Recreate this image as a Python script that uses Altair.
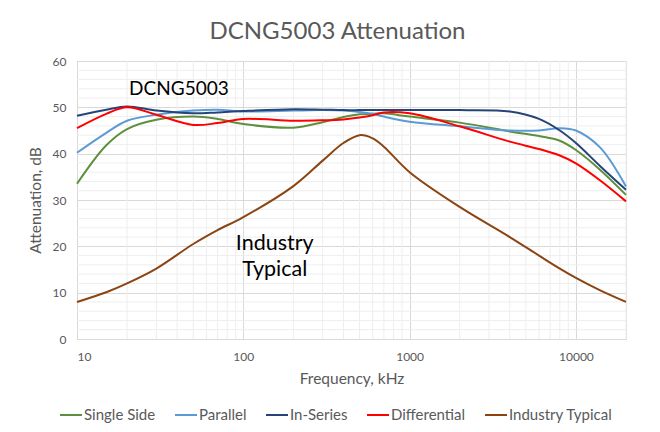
import altair as alt
import pandas as pd

# ---------------- data ----------------
freq = [10, 15, 20, 30, 50, 70, 100, 200, 300, 400, 500, 600, 700, 1000, 2000, 4000, 6000, 8000, 10000, 14000, 20000]
single_side = [33.5, 41.8, 45.3, 47.3, 48.0, 47.5, 46.4, 45.6, 46.8, 47.9, 48.5, 48.6, 48.7, 48.0, 46.7, 44.8, 43.8, 42.8, 40.8, 36.5, 31.1]
parallel = [40.2, 44.5, 47.1, 48.4, 49.3, 49.5, 49.1, 49.3, 49.4, 49.3, 49.0, 48.6, 48.0, 46.9, 45.9, 45.0, 45.0, 45.5, 45.0, 41.3, 32.9]
in_series = [48.2, 49.5, 50.2, 49.3, 48.7, 48.9, 49.2, 49.6, 49.5, 49.4, 49.4, 49.4, 49.4, 49.4, 49.4, 49.1, 47.5, 45.0, 42.3, 37.3, 32.2]
differential = [45.5, 48.6, 50.0, 48.4, 46.2, 46.6, 47.5, 47.1, 47.2, 47.4, 47.8, 48.3, 48.9, 48.7, 45.9, 42.6, 41.0, 39.6, 37.9, 34.2, 29.7]
industry_typical = [8.0, 10.1, 12.0, 15.2, 20.5, 23.5, 26.3, 33.0, 38.5, 42.3, 44.0, 43.3, 41.5, 36.0, 28.5, 22.0, 18.0, 15.2, 13.2, 10.5, 8.0]

series_names = ["Single Side", "Parallel", "In-Series", "Differential", "Industry Typical"]
series_colors = ["#5E8F3E", "#5B9BD5", "#264478", "#FF0000", "#8B4513"]

x_major = [10, 100, 1000, 10000]
x_minor = [20, 30, 40, 50, 60, 70, 80, 90,
           200, 300, 400, 500, 600, 700, 800, 900,
           2000, 3000, 4000, 5000, 6000, 7000, 8000, 9000,
           20000]
y_major = [0, 10, 20, 30, 40, 50, 60]
y_minor = [2, 4, 6, 8, 12, 14, 16, 18, 22, 24, 26, 28, 32, 34, 36, 38, 42, 44, 46, 48, 52, 54, 56, 58]

product_text = ["DCNG5003"]
product_freq = [41.0]
product_att = [53.9]

industry_text = ["Industry", "Typical"]
industry_freq = [154.5, 154.5]
industry_att = [20.6, 14.9]

# ---------------- build tables ----------------
rows = []
for i, (name, vals) in enumerate(zip(series_names,
                                     [single_side, parallel, in_series, differential, industry_typical])):
    for f, v in zip(freq, vals):
        rows.append({"freq": f, "att": v, "series": name, "order": i})
df = pd.DataFrame(rows)
product_df = pd.DataFrame({"text": product_text, "freq": product_freq, "att": product_att})
industry_df = pd.DataFrame({"text": industry_text, "freq": industry_freq, "att": industry_att})
xminor_df = pd.DataFrame({"freq": x_minor})
yminor_df = pd.DataFrame({"att": y_minor})

FONT = "Lato"
GRAY = "#595959"
MAJOR = "#d9d9d9"
MINOR = "#eeeeee"

x_scale = alt.Scale(type="log", domain=[10, 20000], nice=False)
y_scale = alt.Scale(domain=[0, 60], nice=False)

x_axis = alt.Axis(
    values=x_major,
    title="Frequency, kHz",
    format="d",
    ticks=False,
    tickSize=0,
    labelPadding=12,
    labelFontSize=12,
    labelColor=GRAY,
    labelFont=FONT,
    titleFont=FONT,
    titleFontSize=15.5,
    titleFontWeight="normal",
    titleColor=GRAY,
    titlePadding=9,
    domainColor=MAJOR,
    gridColor=MAJOR,
)
y_axis = alt.Axis(
    values=y_major,
    title="Attenuation, dB",
    ticks=False,
    tickSize=0,
    labelPadding=11,
    labelFontSize=12,
    labelColor=GRAY,
    labelFont=FONT,
    titleFont=FONT,
    titleFontSize=15.5,
    titleFontWeight="normal",
    titleColor=GRAY,
    titlePadding=9,
    domain=False,
    gridColor=MAJOR,
)

xminor = alt.Chart(xminor_df).mark_rule(color=MINOR, strokeWidth=1).encode(
    x=alt.X("freq:Q", scale=x_scale, axis=x_axis),
)
yminor = alt.Chart(yminor_df).mark_rule(color=MINOR, strokeWidth=1).encode(
    y=alt.Y("att:Q", scale=y_scale, axis=y_axis),
)

lines = alt.Chart(df).mark_line(interpolate="catmull-rom", strokeWidth=2).encode(
    x=alt.X("freq:Q", scale=x_scale, axis=x_axis),
    y=alt.Y("att:Q", scale=y_scale, axis=y_axis),
    color=alt.Color(
        "series:N",
        scale=alt.Scale(domain=series_names, range=series_colors),
        legend=alt.Legend(
            title=None,
            orient="none",
            legendX=-18,
            legendY=342,
            direction="horizontal",
            symbolType="stroke",
            symbolStrokeWidth=2,
            symbolSize=484,
            labelFont=FONT,
            labelFontSize=15,
            labelColor=GRAY,
            labelOffset=1,
            columnPadding=15,
        ),
    ),
    order="order:Q",
)

product_label = alt.Chart(product_df).mark_text(font=FONT, fontSize=19, color="#000000", baseline="middle").encode(
    x=alt.X("freq:Q", scale=x_scale),
    y=alt.Y("att:Q", scale=y_scale),
    text="text:N",
)
industry_label = alt.Chart(industry_df).mark_text(font=FONT, fontSize=21.5, color="#000000", baseline="middle").encode(
    x=alt.X("freq:Q", scale=x_scale),
    y=alt.Y("att:Q", scale=y_scale),
    text="text:N",
)

chart = alt.layer(xminor, yminor, lines, product_label, industry_label).properties(
    width=549,
    height=278,
    title=alt.TitleParams("DCNG5003 Attenuation", font=FONT, fontSize=24, fontWeight="normal",
                          color=GRAY, anchor="middle", offset=11, dx=-14),
    autosize=alt.AutoSizeParams(type="none"),
    padding={"left": 69, "top": 53, "right": 26, "bottom": 88},
).configure_view(stroke=None).configure(background="white")

chart.save("out.html", embed_options={"renderer": "svg", "actions": False})
